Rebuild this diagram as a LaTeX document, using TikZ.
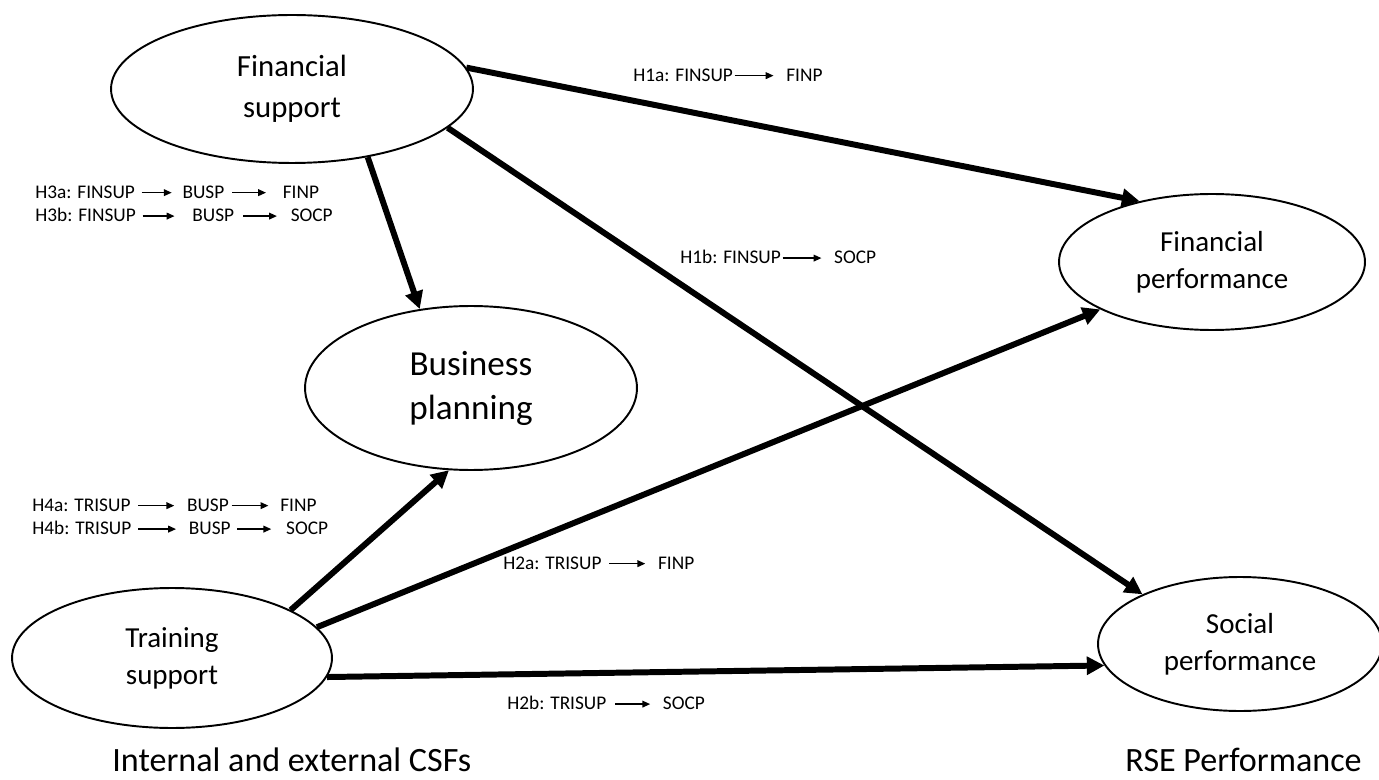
\documentclass[tikz,border=0pt]{standalone}
\usepackage{fontspec}
\setmainfont{Carlito}
\usetikzlibrary{arrows.meta,shapes.geometric}
\newcommand\sa[1]{\tikz[baseline=-0.6ex]\draw[line width=0.9pt,-{Triangle[length=4.5pt,width=3.8pt]}] (0pt,0pt)--(#1,0pt);}
\tikzset{
  construct/.style={draw, ellipse, line width=1.1pt, inner sep=0pt, align=center, font=\fontsize{16.5}{21}\selectfont},
  conn/.style={line width=3.4pt, -{Triangle[length=10pt,width=10pt]}},
  hyp/.style={anchor=west, inner sep=0pt, font=\fontsize{11}{13}\selectfont},
  grouplabel/.style={inner sep=0pt, font=\fontsize{19.4}{23}\selectfont}
}
\begin{document}
\begin{tikzpicture}[x=0.02cm, y=-0.02cm]
\useasboundingbox (0,0) rectangle (1379,780);
\node[construct, minimum width=7.24cm, minimum height=2.96cm, font=\fontsize{17.5}{23}\selectfont] (fs) at (292,89) {Financial\\support};
\node[construct, minimum width=6.64cm, minimum height=3.28cm, font=\fontsize{20}{25}\selectfont] (bp) at (471,388) {Business\\planning};
\node[construct, minimum width=6.4cm, minimum height=2.8cm] (ts) at (172,658) {Training\\support};
\node[construct, minimum width=6.12cm, minimum height=2.72cm] (fp) at (1212,262) {Financial\\performance};
\node[construct, minimum width=5.68cm, minimum height=2.68cm] (sp) at (1240,644) {Social\\performance};

\draw[conn] (fs.7) -- (fp.140);
\draw[conn] (fs.-14) -- (sp.153);
\draw[conn] (fs.-42) -- (bp.123);
\draw[conn] (ts.22) -- (bp.-105);
\draw[conn] (ts.12) -- (fp.203);
\draw[conn] (ts.-7.5) -- (sp.189);

\node[hyp] (h1a) at (633,75) {H1a: FINSUP\hspace{0.5pt}\sa{22.2pt}\hspace{6.8pt}FINP};
\node[hyp] (h1b) at (680,257) {H1b: FINSUP\hspace{0.5pt}\sa{22.2pt}\hspace{6.8pt}SOCP};
\node[hyp] (h2a) at (503,563) {H2a: TRISUP\hspace{4pt}\sa{20.5pt}\hspace{6.8pt}FINP};
\node[hyp] (h2b) at (507,703) {H2b: TRISUP\hspace{4.6pt}\sa{19.9pt}\hspace{6.8pt}SOCP};
\node[hyp] (h3a) at (35,192) {H3a: FINSUP\hspace{3.4pt}\sa{17.1pt}\hspace{5.7pt}BUSP\hspace{4pt}\sa{19.3pt}\hspace{9.1pt}FINP};
\node[hyp] (h3b) at (35,215) {H3b: FINSUP\hspace{3.4pt}\sa{18.2pt}\hspace{9.7pt}BUSP\hspace{4.6pt}\sa{19.3pt}\hspace{7.4pt}SOCP};
\node[hyp] (h4a) at (32,505) {H4a: TRISUP\hspace{4pt}\sa{20.5pt}\hspace{6.8pt}BUSP\hspace{1.1pt}\sa{21pt}\hspace{6.3pt}FINP};
\node[hyp] (h4b) at (32,528) {H4b: TRISUP\hspace{3.4pt}\sa{21.6pt}\hspace{6.8pt}BUSP\hspace{3.4pt}\sa{19.3pt}\hspace{8pt}SOCP};

\node[grouplabel, anchor=west] (csf) at (112,760) {Internal and external CSFs};
\node[grouplabel, anchor=east] (rse) at (1362,760) {RSE Performance};
\end{tikzpicture}
\end{document}
